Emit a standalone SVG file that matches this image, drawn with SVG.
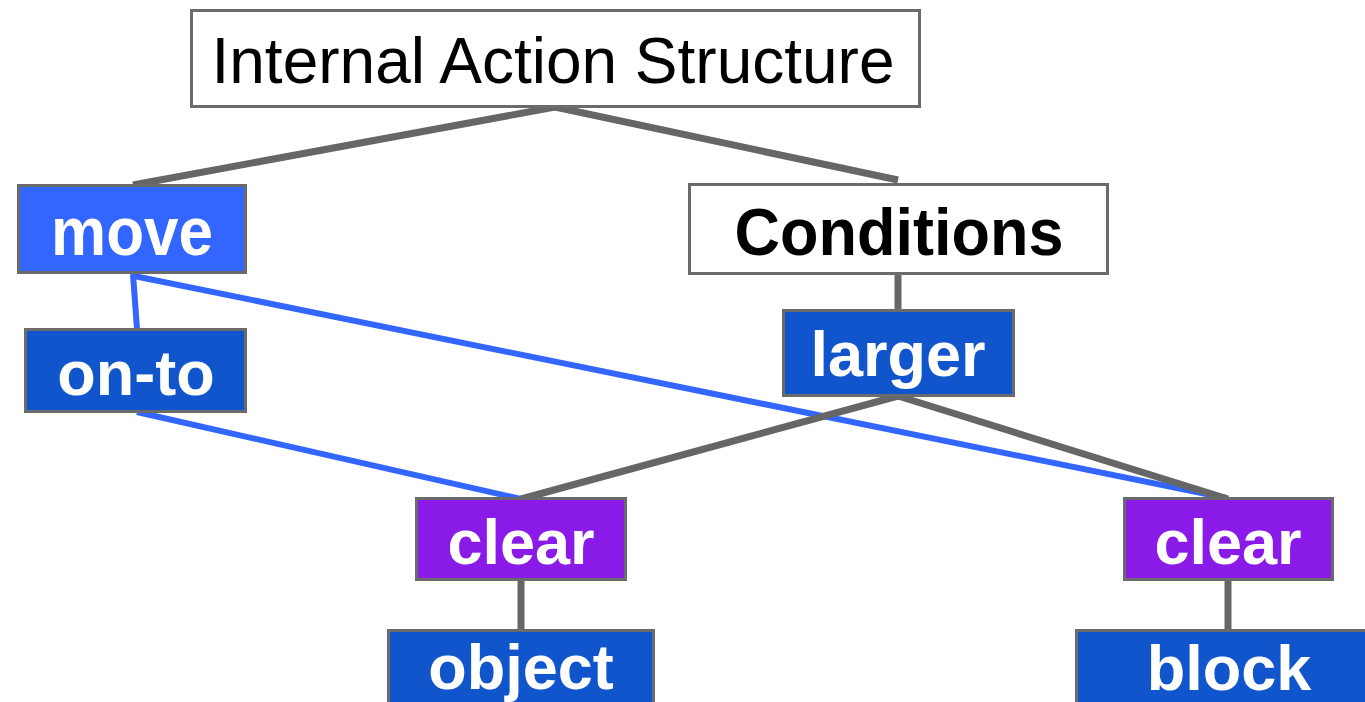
<svg xmlns="http://www.w3.org/2000/svg" width="1365" height="702" viewBox="0 0 1365 702">
  <style>
    .box { stroke: #6b6b6b; stroke-width: 3; }
    .white { fill: #ffffff; }
    .bright { fill: #3366ff; }
    .deep { fill: #1155cc; }
    .violet { fill: #8a1ae8; }
    .lbl { font-family: "Liberation Sans", Arial, sans-serif; font-size: 63px; text-anchor: middle; }
    .bold { font-weight: bold; fill: #ffffff; }
    .dark { fill: #000000; }
    .gray { stroke: #666666; stroke-width: 7; fill: none; }
    .blue { stroke: #3366ff; stroke-width: 6; fill: none; }
  </style>
  <rect width="1365" height="702" fill="#ffffff"/>

  <g id="connectors">
    <!-- cross links (drawn beneath the tree edges) -->
    <line class="blue" x1="133" y1="274" x2="137" y2="329"/>
    <line class="blue" x1="134" y1="276" x2="1226" y2="498"/>
    <line class="blue" x1="137" y1="412" x2="521" y2="499"/>
    <!-- tree edges -->
    <line class="gray" x1="555" y1="107" x2="133" y2="185"/>
    <line class="gray" x1="555" y1="107" x2="898" y2="180"/>
    <line class="gray" x1="898" y1="274" x2="898" y2="310"/>
    <line class="gray" x1="898" y1="396" x2="521" y2="499"/>
    <line class="gray" x1="898" y1="396" x2="1228" y2="499"/>
    <line class="gray" x1="521" y1="580" x2="521" y2="630"/>
    <line class="gray" x1="1228" y1="580" x2="1228" y2="630"/>
  </g>

  <g id="title">
    <rect class="box white" x="191.5" y="10.5" width="728" height="96"/>
    <text class="lbl dark" x="553" y="83" style="font-size:64px">Internal Action Structure</text>
  </g>
  <g id="move">
    <rect class="box bright" x="18.5" y="185.5" width="227" height="87"/>
    <text class="lbl bold" transform="translate(132 255) scale(1 1.1)" style="font-size:62px">move</text>
  </g>
  <g id="on-to">
    <rect class="box deep" x="25.5" y="329.5" width="220" height="82"/>
    <text class="lbl bold" x="136" y="395">on-to</text>
  </g>
  <g id="conditions">
    <rect class="box white" x="689.5" y="184.5" width="418" height="89"/>
    <text class="lbl bold dark" transform="translate(899 255) scale(1 1.05)">Conditions</text>
  </g>
  <g id="larger">
    <rect class="box deep" x="783.5" y="310.5" width="230" height="85"/>
    <text class="lbl bold" x="898" y="376">larger</text>
  </g>
  <g id="clear-left">
    <rect class="box violet" x="416.5" y="498.5" width="209" height="81"/>
    <text class="lbl bold" x="521" y="564">clear</text>
  </g>
  <g id="clear-right">
    <rect class="box violet" x="1124.5" y="498.5" width="208" height="81"/>
    <text class="lbl bold" x="1228" y="564">clear</text>
  </g>
  <g id="object">
    <rect class="box deep" x="388.5" y="630.5" width="265" height="80"/>
    <text class="lbl bold" x="521" y="689">object</text>
  </g>
  <g id="block">
    <rect class="box deep" x="1076.5" y="630.5" width="300" height="80"/>
    <text class="lbl bold" x="1229" y="690">block</text>
  </g>
</svg>
